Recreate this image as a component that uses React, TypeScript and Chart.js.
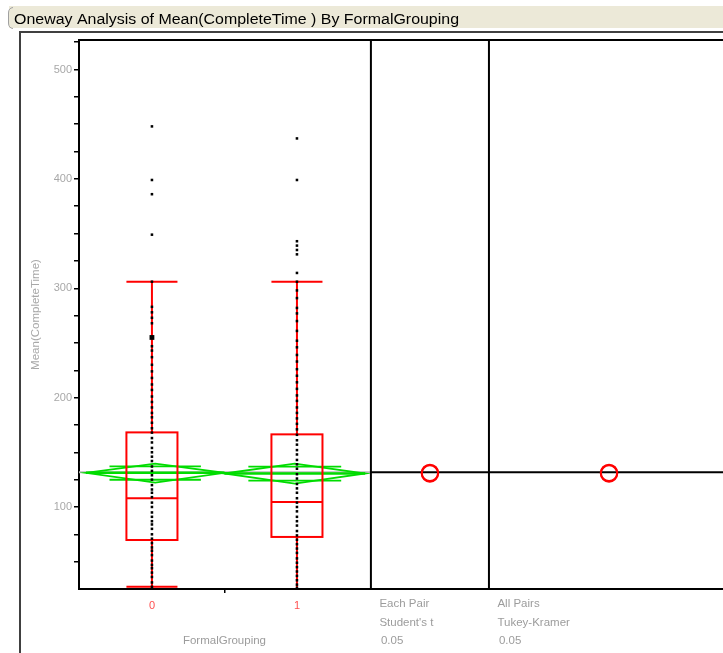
import React, { useEffect, useRef } from 'react';
import { Chart, registerables } from 'chart.js';

Chart.register(...registerables);

// ---------- text ----------
const TITLE = 'Oneway Analysis of Mean(CompleteTime ) By FormalGrouping';
const Y_TITLE = 'Mean(CompleteTime)';
const X_TITLE = 'FormalGrouping';
const PANEL_LABELS_1 = ['Each Pair', "Student's t", '0.05'];
const PANEL_LABELS_2 = ['All Pairs', 'Tukey-Kramer', '0.05'];

// ---------- axes ----------
const CATEGORIES = ['0', '1'];
const CATEGORY_X = [0, 1];
const GROUP_BOUNDARY = 0.5;
const X_MIN = -0.503;
const X_MAX = 3.938;
const Y_MIN = 25;
const Y_MAX = 527;
const Y_MAJOR = [100, 200, 300, 400, 500];
const Y_MINOR = [50, 75, 125, 150, 175, 225, 250, 275, 325, 350, 375, 425, 450, 475, 525];

// ---------- raw points ----------
const POINTS_0 = [27, 31, 36, 40, 44, 47, 51, 56, 60, 63, 67, 71, 75, 80, 84, 87, 91, 95, 100, 104, 109, 113, 116, 120, 125, 129, 133, 137, 142, 146, 150, 154, 159, 163, 168, 172, 177, 182, 186, 191, 196, 201, 207, 212, 218, 224, 230, 237, 243, 247, 268, 273, 278, 283, 306, 349, 386, 399, 448];
const HIGHLIGHT_0 = [255];
const POINTS_1 = [26, 29, 33, 37, 41, 45, 49, 53, 58, 62, 66, 70, 74, 78, 83, 87, 91, 96, 100, 104, 108, 113, 117, 121, 126, 130, 135, 139, 143, 148, 152, 157, 161, 166, 171, 176, 181, 186, 191, 197, 202, 208, 214, 220, 226, 233, 239, 246, 252, 261, 270, 277, 282, 291, 298, 306, 314, 331, 335, 339, 343, 399, 437];

// ---------- box plots ----------
const Q1 = [69.8, 72.6];
const MEDIAN = [108, 104.5];
const Q3 = [168.2, 166.4];
const WHISKER_LO = [27, 5];
const WHISKER_HI = [306, 306];
const BOX_HALF_WIDTH = 0.176;

// ---------- means diamonds ----------
const MEANS = [131.2, 130.6];
const CI_LO = [122.3, 121.4];
const CI_HI = [139.6, 139.6];
const DIAMOND_LEFT = [-0.455, 0.5];
const DIAMOND_RIGHT = [0.5, 1.47];
const GRAND_MEAN = 131.8;

// ---------- comparison circles ----------
const PANEL_DIVIDERS = [1.51, 2.324];
const CIRCLE_X = [1.917, 3.152];
const CIRCLE_RADIUS = [7.5, 7.5];

const RED = 'rgb(255,0,0)';
const GREEN = 'rgb(0,220,0)';
const GRAY_TEXT = '#9c9c9c';
const FONT = '"Liberation Sans", Arial, sans-serif';
const VIEW_W = 723;
const VIEW_H = 653;
const CANVAS_W = 727;

const jmpPlugin = {
  id: 'jmp',
  beforeDraw(chart: any) {
    const ctx = chart.ctx;
    const W = chart.width;
    const H = chart.height;
    ctx.save();
    ctx.fillStyle = '#ffffff';
    ctx.fillRect(0, 0, W, H);
    // title band
    ctx.fillStyle = '#ECE9D8';
    ctx.fillRect(9, 6, W - 9, 22);
    ctx.strokeStyle = '#a0a0a0';
    ctx.lineWidth = 1;
    ctx.beginPath();
    ctx.moveTo(13, 7.5);
    ctx.quadraticCurveTo(8.5, 8, 8.5, 13);
    ctx.lineTo(8.5, 23);
    ctx.quadraticCurveTo(8.5, 28, 13, 28.5);
    ctx.stroke();
    // title text (stretched to match width)
    ctx.fillStyle = '#000';
    ctx.font = '14px ' + FONT;
    ctx.textBaseline = 'alphabetic';
    ctx.textAlign = 'left';
    const tw = ctx.measureText(TITLE).width;
    ctx.save();
    ctx.translate(14, 24);
    ctx.scale(445 / tw, 1);
    ctx.fillText(TITLE, 0, 0);
    ctx.restore();
    // outer frame
    ctx.strokeStyle = '#404040';
    ctx.lineWidth = 2;
    ctx.beginPath();
    ctx.moveTo(20, H);
    ctx.lineTo(20, 32);
    ctx.lineTo(W, 32);
    ctx.stroke();
    ctx.restore();
  },
  beforeDatasetsDraw(chart: any) {
    const ctx = chart.ctx;
    const xs = chart.scales.x;
    const ys = chart.scales.y;
    const a = chart.chartArea;
    ctx.save();
    ctx.beginPath();
    ctx.rect(a.left, a.top, a.right - a.left, a.bottom - a.top);
    ctx.clip();

    // grand mean line
    const yg = ys.getPixelForValue(GRAND_MEAN);
    const xd = xs.getPixelForValue(PANEL_DIVIDERS[0]);
    ctx.lineWidth = 2;
    ctx.strokeStyle = '#b8b8b8';
    ctx.beginPath();
    ctx.moveTo(a.left, yg);
    ctx.lineTo(xd, yg);
    ctx.stroke();
    ctx.strokeStyle = '#000';
    ctx.beginPath();
    ctx.moveTo(xd, yg);
    ctx.lineTo(a.right, yg);
    ctx.stroke();

    // means diamonds
    for (let i = 0; i < MEANS.length; i++) {
      const xl = xs.getPixelForValue(DIAMOND_LEFT[i]);
      const xr = xs.getPixelForValue(DIAMOND_RIGHT[i]);
      const xc = (xl + xr) / 2;
      const ym = ys.getPixelForValue(MEANS[i]);
      const yt = ys.getPixelForValue(CI_HI[i]);
      const yb = ys.getPixelForValue(CI_LO[i]);
      ctx.strokeStyle = GREEN;
      ctx.lineWidth = 1.8;
      ctx.beginPath();
      ctx.moveTo(xl, ym);
      ctx.lineTo(xc, yt);
      ctx.lineTo(xr, ym);
      ctx.lineTo(xc, yb);
      ctx.closePath();
      ctx.stroke();
      // mean line
      ctx.lineWidth = 2.5;
      ctx.beginPath();
      ctx.moveTo(xl, ym);
      ctx.lineTo(xr, ym);
      ctx.stroke();
      // overlap marks
      const du = (CI_HI[i] - MEANS[i]) / Math.SQRT2;
      const dl = (MEANS[i] - CI_LO[i]) / Math.SQRT2;
      const hw = (xr - xl) * 0.33;
      ctx.lineWidth = 1.8;
      [MEANS[i] + du, MEANS[i] - dl].forEach((v) => {
        const yy = ys.getPixelForValue(v);
        ctx.beginPath();
        ctx.moveTo(xc - hw, yy);
        ctx.lineTo(xc + hw, yy);
        ctx.stroke();
      });
    }

    // box plots
    ctx.strokeStyle = RED;
    ctx.lineWidth = 2;
    for (let i = 0; i < CATEGORY_X.length; i++) {
      const xc = xs.getPixelForValue(CATEGORY_X[i]);
      const x0 = xs.getPixelForValue(CATEGORY_X[i] - BOX_HALF_WIDTH);
      const x1 = xs.getPixelForValue(CATEGORY_X[i] + BOX_HALF_WIDTH);
      const yq1 = ys.getPixelForValue(Q1[i]);
      const yq3 = ys.getPixelForValue(Q3[i]);
      const ymd = ys.getPixelForValue(MEDIAN[i]);
      const ylo = ys.getPixelForValue(WHISKER_LO[i]);
      const yhi = ys.getPixelForValue(WHISKER_HI[i]);
      ctx.strokeRect(x0, yq3, x1 - x0, yq1 - yq3);
      ctx.beginPath();
      ctx.moveTo(x0, ymd);
      ctx.lineTo(x1, ymd);
      ctx.moveTo(xc, yq3);
      ctx.lineTo(xc, yhi);
      ctx.moveTo(x0, yhi);
      ctx.lineTo(x1, yhi);
      ctx.moveTo(xc, yq1);
      ctx.lineTo(xc, ylo);
      ctx.moveTo(x0, ylo);
      ctx.lineTo(x1, ylo);
      ctx.stroke();
    }
    ctx.restore();

    // panel dividers
    ctx.save();
    ctx.strokeStyle = '#000';
    ctx.lineWidth = 2;
    PANEL_DIVIDERS.forEach((v) => {
      const x = xs.getPixelForValue(v);
      ctx.beginPath();
      ctx.moveTo(x, a.top);
      ctx.lineTo(x, a.bottom);
      ctx.stroke();
    });
    // plot top border
    ctx.beginPath();
    ctx.moveTo(a.left - 1, a.top);
    ctx.lineTo(chart.width, a.top);
    ctx.stroke();
    ctx.restore();
  },
  afterDatasetsDraw(chart: any) {
    const ctx = chart.ctx;
    const xs = chart.scales.x;
    const ys = chart.scales.y;
    ctx.save();
    ctx.strokeStyle = RED;
    ctx.lineWidth = 2;
    for (let p = 0; p < CIRCLE_X.length; p++) {
      const cx = xs.getPixelForValue(CIRCLE_X[p]);
      for (let i = 0; i < MEANS.length; i++) {
        const cy = ys.getPixelForValue(MEANS[i]);
        const r = ys.getPixelForValue(MEANS[i] - CIRCLE_RADIUS[i]) - cy;
        ctx.beginPath();
        ctx.arc(cx, cy, r, 0, Math.PI * 2);
        ctx.stroke();
      }
    }
    ctx.restore();
  },
  afterDraw(chart: any) {
    const ctx = chart.ctx;
    const xs = chart.scales.x;
    const a = chart.chartArea;
    ctx.save();
    ctx.fillStyle = GRAY_TEXT;
    ctx.textBaseline = 'middle';
    ctx.font = '11.5px ' + FONT;
    ctx.textAlign = 'center';
    ctx.fillText(X_TITLE, xs.getPixelForValue(GROUP_BOUNDARY), a.bottom + 52);
    ctx.textAlign = 'left';
    [PANEL_LABELS_1, PANEL_LABELS_2].forEach((lines, p) => {
      const x = xs.getPixelForValue(PANEL_DIVIDERS[p]) + 8.5;
      lines.forEach((t, k) => {
        ctx.fillText(t, x + (k === 2 ? 1.5 : 0), a.bottom + 15 + k * 18.5);
      });
    });
    ctx.restore();
  },
};

export default function App() {
  const canvasRef = useRef<HTMLCanvasElement | null>(null);

  useEffect(() => {
    const canvas = canvasRef.current;
    if (!canvas) return;
    const rectPoint = {
      pointStyle: 'rect',
      pointRadius: 1.8,
      pointBorderWidth: 0,
      pointBackgroundColor: '#000',
      showLine: false,
    };
    const chart = new Chart(canvas, {
      type: 'scatter',
      data: {
        datasets: [
          { ...rectPoint, data: POINTS_0.map((v) => ({ x: CATEGORY_X[0], y: v })) },
          { ...rectPoint, data: POINTS_1.map((v) => ({ x: CATEGORY_X[1], y: v })) },
          { ...rectPoint, pointRadius: 3.4, data: HIGHLIGHT_0.map((v) => ({ x: CATEGORY_X[0], y: v })) },
        ] as any,
      },
      options: {
        animation: false,
        responsive: false,
        maintainAspectRatio: false,
        layout: { padding: { top: 40, right: 0, left: 0, bottom: 0 } },
        plugins: {
          legend: { display: false },
          tooltip: { enabled: false },
        },
        scales: {
          x: {
            type: 'linear',
            position: 'bottom',
            min: X_MIN,
            max: X_MAX,
            afterBuildTicks: (s: any) => {
              s.ticks = [CATEGORY_X[0], GROUP_BOUNDARY, CATEGORY_X[1]].map((v) => ({ value: v }));
            },
            afterFit: (s: any) => {
              s.height = 64;
            },
            ticks: {
              autoSkip: false,
              maxRotation: 0,
              padding: 6,
              color: 'rgb(255,80,80)',
              font: { family: FONT, size: 11 },
              callback: (v: any) => {
                const idx = CATEGORY_X.indexOf(Number(v));
                return idx >= 0 ? CATEGORIES[idx] : '';
              },
            },
            grid: {
              drawOnChartArea: false,
              tickLength: 4,
              lineWidth: 1.5,
              color: (c: any) => (c.tick && c.tick.value === GROUP_BOUNDARY ? '#000' : 'rgba(0,0,0,0)'),
            },
            border: { color: '#000', width: 2 },
          },
          y: {
            type: 'linear',
            min: Y_MIN,
            max: Y_MAX,
            afterBuildTicks: (s: any) => {
              s.ticks = [...Y_MINOR, ...Y_MAJOR].sort((p, q) => p - q).map((v) => ({ value: v }));
            },
            afterFit: (s: any) => {
              s.width = 79;
            },
            ticks: {
              autoSkip: false,
              padding: 2,
              color: '#a8a8a8',
              font: { family: FONT, size: 11 },
              callback: (v: any) => (Y_MAJOR.includes(Number(v)) ? String(v) : ''),
            },
            grid: {
              drawOnChartArea: false,
              tickLength: 5,
              lineWidth: 1.5,
              color: '#000',
            },
            border: { color: '#000', width: 2 },
            title: {
              display: true,
              text: Y_TITLE,
              color: '#a8a8a8',
              font: { family: FONT, size: 11.5 },
              padding: { top: 29, bottom: 0 },
            },
          },
        },
      } as any,
      plugins: [jmpPlugin],
    });
    return () => chart.destroy();
  }, []);

  return (
    <div style={{ position: 'fixed', left: 0, top: 0, width: VIEW_W, height: VIEW_H, overflow: 'hidden', background: '#fff' }}>
      <canvas ref={canvasRef} width={CANVAS_W} height={VIEW_H} style={{ width: CANVAS_W, height: VIEW_H, display: 'block' }} />
    </div>
  );
}
